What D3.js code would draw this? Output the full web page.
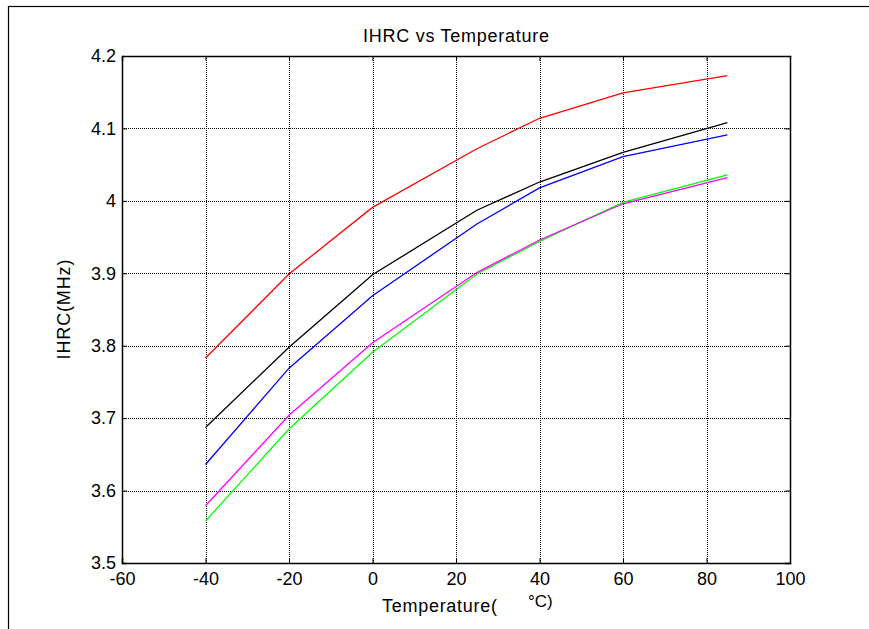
<!DOCTYPE html>
<html>
<head>
<meta charset="utf-8">
<script src="https://cdn.jsdelivr.net/npm/d3@7"></script>
<style>
  body { margin: 0; background: #fff; }
  svg { display: block; }
  text { font-family: "Liberation Sans", Arial, sans-serif; fill: #000; }
</style>
</head>
<body>
<div id="chart"></div>
<script>
// data
const temps = [-40, -20, 0, 25, 40, 60, 85];
const redVals = [3.783, 3.899, 3.991, 4.072, 4.114, 4.149, 4.173];
const blackVals = [3.687, 3.798, 3.898, 3.987, 4.026, 4.067, 4.108];
const blueVals = [3.636, 3.769, 3.869, 3.968, 4.018, 4.061, 4.091];
const magentaVals = [3.579, 3.704, 3.804, 3.901, 3.946, 3.996, 4.032];
const greenVals = [3.558, 3.685, 3.791, 3.899, 3.944, 3.998, 4.036];
const xTicks = [-60, -40, -20, 0, 20, 40, 60, 80, 100];
const yTicks = [3.5, 3.6, 3.7, 3.8, 3.9, 4.0, 4.1, 4.2];

const series = [
  { name: "red", color: "#ff0000", values: redVals },
  { name: "black", color: "#000000", values: blackVals },
  { name: "blue", color: "#0000ff", values: blueVals },
  { name: "green", color: "#00ff00", values: greenVals },
  { name: "magenta", color: "#ff00ff", values: magentaVals }
];

const width = 869;
const height = 629;
const margin = { top: 56, right: 79, bottom: 66, left: 122 };
const plotW = width - margin.left - margin.right;
const plotH = height - margin.top - margin.bottom;

const svg = d3.select("#chart")
  .append("svg")
  .attr("width", width)
  .attr("height", height);

// outer figure frame (runs past the window on right / bottom)
svg.append("rect")
  .attr("x", 8.5)
  .attr("y", 6.5)
  .attr("width", width + 20)
  .attr("height", height + 20)
  .attr("fill", "none")
  .attr("stroke", "#000")
  .attr("stroke-width", 1.2);

const g = svg.append("g")
  .attr("transform", `translate(${margin.left},${margin.top})`);

const x = d3.scaleLinear().domain([-60, 100]).range([0, plotW]);
const y = d3.scaleLinear().domain([3.5, 4.2]).range([plotH, 0]);

// grid lines
const grid = g.append("g").attr("class", "grid");
grid.selectAll("line.vx")
  .data(xTicks.slice(1, -1))
  .enter()
  .append("line")
  .attr("x1", d => Math.round(x(d)) + 0.5)
  .attr("x2", d => Math.round(x(d)) + 0.5)
  .attr("y1", 0)
  .attr("y2", plotH)
  .attr("stroke", "#000")
  .attr("stroke-width", 1)
  .attr("stroke-dasharray", "1,1");

grid.selectAll("line.hy")
  .data(yTicks.slice(1, -1))
  .enter()
  .append("line")
  .attr("x1", 0)
  .attr("x2", plotW)
  .attr("y1", d => Math.round(y(d)) + 0.5)
  .attr("y2", d => Math.round(y(d)) + 0.5)
  .attr("stroke", "#000")
  .attr("stroke-width", 1)
  .attr("stroke-dasharray", "1,1");

// axes with inward ticks, MATLAB style box
const tickLen = 5;
const xAxisB = d3.axisBottom(x).tickValues(xTicks).tickSize(-tickLen).tickPadding(9).tickFormat(d => String(d));
const xAxisT = d3.axisTop(x).tickValues(xTicks).tickSize(-tickLen).tickFormat("");
const yAxisL = d3.axisLeft(y).tickValues(yTicks).tickSize(-tickLen).tickPadding(6).tickFormat(d => String(+d.toFixed(1)));
const yAxisR = d3.axisRight(y).tickValues(yTicks).tickSize(-tickLen).tickFormat("");

const styleAxis = sel => {
  sel.attr("font-size", null).attr("font-family", null);
  sel.selectAll("path").attr("stroke", "#000").attr("stroke-width", 1.5);
  sel.selectAll("line").attr("stroke", "#000").attr("stroke-width", 1);
  sel.selectAll("text")
    .style("font-family", "'Liberation Sans', Arial, sans-serif")
    .style("font-size", "18px")
    .attr("fill", "#000");
};

g.append("g").attr("transform", `translate(0,${plotH})`).call(xAxisB).call(styleAxis);
g.append("g").call(xAxisT).call(styleAxis);
g.append("g").call(yAxisL).call(styleAxis);
g.append("g").attr("transform", `translate(${plotW},0)`).call(yAxisR).call(styleAxis);

g.selectAll(".domain").attr("d", function() {
  return d3.select(this).attr("d").replace(/V-?5/g, "V0").replace(/H-?5/g, "H0");
});

// series lines
const line = d3.line()
  .x((d, i) => x(temps[i]))
  .y(d => y(d));

g.selectAll("path.series")
  .data(series)
  .enter()
  .append("path")
  .attr("class", "series")
  .attr("d", d => line(d.values))
  .attr("fill", "none")
  .attr("stroke", d => d.color)
  .attr("stroke-width", 1.3);

// title
svg.append("text")
  .attr("x", margin.left + plotW / 2)
  .attr("y", 42)
  .attr("text-anchor", "middle")
  .style("font-size", "18px")
  .attr("textLength", 186)
  .text("IHRC vs Temperature");

// x label
svg.append("text")
  .attr("x", 382)
  .attr("y", 612)
  .style("font-size", "18px")
  .attr("textLength", 115)
  .text("Temperature(");
svg.append("text")
  .attr("x", 528)
  .attr("y", 607)
  .style("font-size", "17px")
  .text("°C)");

// y label
svg.append("text")
  .attr("transform", `translate(70,${margin.top + plotH / 2}) rotate(-90)`)
  .attr("text-anchor", "middle")
  .style("font-size", "18px")
  .attr("textLength", 100)
  .text("IHRC(MHz)");
</script>
</body>
</html>
